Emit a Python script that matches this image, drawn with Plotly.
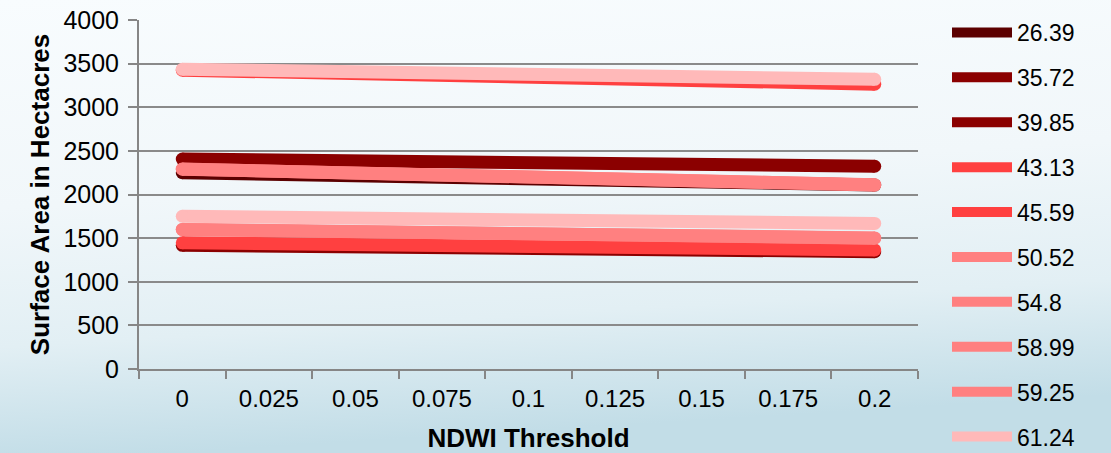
import base64
import plotly.graph_objects as go

# ---- data ----
thresholds = ["0", "0.025", "0.05", "0.075", "0.1", "0.125", "0.15", "0.175", "0.2"]
series_names = ["26.39", "35.72", "39.85", "43.13", "45.59", "50.52", "54.8", "58.99", "59.25", "61.24", "63.2"]
area_at_0 = [2250, 2406, 1418, 3425, 1446, 2292, 1600, 1598, 2290, 1751, 3435]
area_at_02 = [2108, 2324, 1345, 3265, 1365, 2111, 1502, 1500, 2110, 1668, 3320]
series_colors = ["#5c0000", "#8b0000", "#8b0000", "#ff4040", "#ff4040",
                 "#ff8080", "#ff8080", "#ff8080", "#ff8080", "#ffb9b9", "#ffb9b9"]
in_legend = [True] * 10 + [False]

W, H = 1111, 453
ml, mr, mt, mb = 139, 193, 20, 84
pw, ph = W - ml - mr, H - mt - mb

fig = go.Figure()
for name, a0, a1, col, leg in zip(series_names, area_at_0, area_at_02, series_colors, in_legend):
    xs = [thresholds[0], thresholds[-1]]
    ys = [a0, a1]
    fig.add_trace(go.Scatter(x=xs, y=ys, mode="lines", name=name, legendgroup=name,
                             showlegend=leg, line=dict(color=col, width=13)))
    fig.add_trace(go.Scatter(x=xs, y=ys, mode="markers", name=name, legendgroup=name,
                             showlegend=False, hoverinfo="skip",
                             marker=dict(color=col, size=13, line=dict(width=0))))

svg = f'''<svg xmlns="http://www.w3.org/2000/svg" width="{W}" height="{H}" viewBox="0 0 {W} {H}" preserveAspectRatio="none">
<defs><linearGradient id="g" x1="0" y1="0" x2="0.15" y2="1">
<stop offset="0" stop-color="#f8fcfe"/>
<stop offset="0.45" stop-color="#f1f7fa"/>
<stop offset="0.75" stop-color="#e2eff4"/>
<stop offset="1" stop-color="#c2dde7"/>
</linearGradient></defs>
<rect x="0" y="0" width="{W}" height="{H}" fill="url(#g)"/>
</svg>'''
uri = "data:image/svg+xml;base64," + base64.b64encode(svg.encode()).decode()

font = "Liberation Sans, Arial, sans-serif"
fig.update_layout(
    width=W, height=H,
    margin=dict(l=ml, r=mr, t=mt, b=mb, pad=0, autoexpand=False),
    paper_bgcolor="#eef6f9", plot_bgcolor="rgba(0,0,0,0)",
    font=dict(family=font, size=24, color="#000000"),
    images=[dict(source=uri, xref="paper", yref="paper", x=-ml / pw, y=1 + mt / ph,
                 sizex=W / pw, sizey=H / ph, sizing="stretch", layer="below",
                 xanchor="left", yanchor="top")],
    showlegend=True,
    legend=dict(x=(947 - ml) / pw, y=1 + 9 / ph, xanchor="left", yanchor="top",
                bgcolor="rgba(0,0,0,0)", font=dict(size=23, family=font),
                tracegroupgap=12, itemwidth=60, traceorder="grouped", maxheight=700),
    xaxis=dict(type="category", categoryorder="array", categoryarray=thresholds,
               range=[-0.5, 8.5], tickson="boundaries", ticks="outside", ticklen=8,
               tickwidth=2, tickcolor="#868686", showline=True, linecolor="#868686",
               linewidth=2, showgrid=False, zeroline=False, ticklabelstandoff=7,
               title=dict(text="<b>NDWI Threshold</b>", font=dict(size=26), standoff=18),
               tickfont=dict(size=24)),
    yaxis=dict(range=[0, 4000], dtick=500, ticks="outside", ticklen=9, tickwidth=2,
               tickcolor="#868686", showline=True, linecolor="#868686", linewidth=2,
               showgrid=True, gridcolor="#8a8a8a", gridwidth=2, zeroline=False,
               tickfont=dict(size=25), ticklabelstandoff=4,
               title=dict(text="<b>Surface Area in Hectacres</b>", font=dict(size=26), standoff=6)),
)
fig.write_html("out.html")
